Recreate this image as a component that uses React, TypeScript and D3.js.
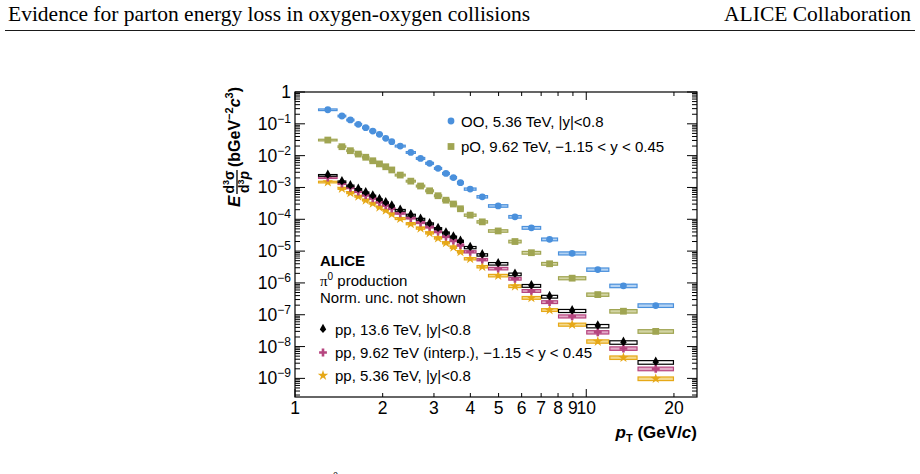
import React, { useRef, useEffect } from "react";
import * as d3 from "d3";

// pT bin edges (GeV/c), shared by all spectra
const binEdges = [
  1.2, 1.4, 1.5, 1.6, 1.7, 1.8, 1.9, 2.0, 2.1, 2.2, 2.4, 2.6, 2.8, 3.0, 3.2, 3.4,
  3.6, 3.8, 4.2, 4.6, 5.4, 6.0, 7, 8, 10, 12, 15, 20,
];

// relative systematic uncertainty per bin (box half-height)
const sysRel = [
  0.06, 0.06, 0.06, 0.06, 0.06, 0.06, 0.06, 0.06, 0.06, 0.065, 0.065, 0.07,
  0.07, 0.07, 0.075, 0.075, 0.08, 0.08, 0.085, 0.09, 0.095, 0.1, 0.1, 0.11,
  0.12, 0.125, 0.13,
];

// invariant yields
const ooValues = [
  0.277, 0.176, 0.132, 0.0964, 0.0759, 0.0594, 0.0468, 0.035, 0.0275, 0.02,
  0.0126, 8.2e-3, 5.75e-3, 3.98e-3, 2.75e-3, 2.04e-3, 1.41e-3, 8.9e-4, 5.1e-4,
  2.63e-4, 1.2e-4, 5.4e-5, 2.34e-5, 8.5e-6, 2.63e-6, 8.1e-7, 1.95e-7,
];
const poValues = [
  0.0309, 0.0191, 0.0143, 0.0112, 8.9e-3, 6.9e-3, 5.5e-3, 4.47e-3, 3.55e-3,
  2.45e-3, 1.58e-3, 1.11e-3, 7.85e-4, 5.5e-4, 3.98e-4, 3.02e-4, 2.14e-4,
  1.35e-4, 8.3e-5, 4.3e-5, 2.0e-5, 8.9e-6, 4.0e-6, 1.41e-6, 4.3e-7, 1.29e-7,
  3.0e-8,
];
const pp136Values = [
  2.4e-3, 1.51e-3, 1.12e-3, 8.7e-4, 6.8e-4, 5.4e-4, 4.17e-4, 3.31e-4, 2.6e-4,
  1.91e-4, 1.35e-4, 1.0e-4, 7.2e-5, 5.1e-5, 3.7e-5, 2.75e-5, 2.04e-5, 1.29e-5,
  7.6e-6, 4.0e-6, 1.86e-6, 8.1e-7, 3.7e-7, 1.32e-7, 4.4e-8, 1.35e-8, 3.2e-9,
];
const pp962Values = [
  2.04e-3, 1.32e-3, 9.8e-4, 7.4e-4, 5.75e-4, 4.57e-4, 3.47e-4, 2.75e-4,
  2.16e-4, 1.55e-4, 1.1e-4, 7.9e-5, 5.75e-5, 4.07e-5, 2.88e-5, 2.14e-5,
  1.55e-5, 9.5e-6, 5.4e-6, 2.82e-6, 1.35e-6, 5.6e-7, 2.5e-7, 8.9e-8, 2.82e-8,
  8.7e-9, 2.0e-9,
];
const pp536Values = [
  1.48e-3, 9.3e-4, 6.8e-4, 5.25e-4, 3.98e-4, 3.16e-4, 2.4e-4, 1.91e-4,
  1.46e-4, 1.05e-4, 7.2e-5, 5.25e-5, 3.7e-5, 2.57e-5, 1.82e-5, 1.32e-5,
  9.5e-6, 5.75e-6, 3.24e-6, 1.7e-6, 7.9e-7, 3.4e-7, 1.41e-7, 4.9e-8, 1.45e-8,
  4.5e-9, 9.8e-10,
];

const xTickValues = [1, 2, 3, 4, 5, 6, 7, 8, 9, 10, 20];
const xTickLabels = ["1", "2", "3", "4", "5", "6", "7", "8", "9", "10", "20"];
const yTickExponents = [0, -1, -2, -3, -4, -5, -6, -7, -8, -9];

const SANS = "'Liberation Sans', Arial, Helvetica, sans-serif";
const SERIF = "'Liberation Serif', 'Times New Roman', serif";

// thin diamond marker used by ROOT for the 13.6 TeV points
const thinDiamond = {
  draw(ctx: any, size: number) {
    const h = Math.sqrt(size) * 0.75;
    const w = h * 0.55;
    ctx.moveTo(0, -h);
    ctx.lineTo(w, 0);
    ctx.lineTo(0, h * 0.6);
    ctx.lineTo(-w, 0);
    ctx.closePath();
  },
};

interface Series {
  key: string;
  values: number[];
  color: string;
  boxFill: string;
  symbol: any;
  size: number;
}

const series: Series[] = [
  { key: "oo", values: ooValues, color: "#4a90dc", boxFill: "#b4d3f3", symbol: d3.symbolCircle, size: 36 },
  { key: "po", values: poValues, color: "#a0a552", boxFill: "#d2d4a3", symbol: d3.symbolSquare, size: 46 },
  { key: "pp536", values: pp536Values, color: "#e6a817", boxFill: "#f4d98c", symbol: d3.symbolStar, size: 34 },
  { key: "pp962", values: pp962Values, color: "#b6457f", boxFill: "#e2a9c6", symbol: d3.symbolCross, size: 34 },
  { key: "pp136", values: pp136Values, color: "#000000", boxFill: "#ffffff", symbol: thinDiamond, size: 60 },
];

const App: React.FC = () => {
  const svgRef = useRef<SVGSVGElement | null>(null);
  const width = 920;
  const height = 474;

  useEffect(() => {
    const svg = d3.select(svgRef.current);
    svg.selectAll("*").remove();

    const left = 295, right = 697, top = 92, bottom = 397;

    const x = d3.scaleLog().domain([1, 24]).range([left, right]);
    const y = d3.scaleLog().domain([2.6e-10, 1]).range([bottom, top]);

    // page header
    svg.append("text")
      .attr("x", 8).attr("y", 21)
      .attr("font-family", SERIF).attr("font-size", 21.5)
      .text("Evidence for parton energy loss in oxygen-oxygen collisions");
    svg.append("text")
      .attr("x", 911).attr("y", 21).attr("text-anchor", "end")
      .attr("font-family", SERIF).attr("font-size", 21.5)
      .text("ALICE Collaboration");
    svg.append("line")
      .attr("x1", 5).attr("x2", 915).attr("y1", 30.5).attr("y2", 30.5)
      .attr("stroke", "#000").attr("stroke-width", 0.9);

    // cut-off caption glyph at the page bottom
    svg.append("text")
      .attr("x", 333).attr("y", 479)
      .attr("font-family", SERIF).attr("font-size", 10)
      .text("0");

    const g = svg.append("g");

    // data: systematic boxes then markers
    series.forEach((s) => {
      const sg = g.append("g");
      s.values.forEach((v, i) => {
        const x0 = x(binEdges[i]);
        const x1 = x(binEdges[i + 1]);
        const hi = v * (1 + sysRel[i]);
        const lo = v * (1 - sysRel[i]);
        sg.append("rect")
          .attr("x", x0 + 0.5)
          .attr("y", y(hi))
          .attr("width", Math.max(0, x1 - x0 - 1))
          .attr("height", y(lo) - y(hi))
          .attr("fill", s.boxFill)
          .attr("stroke", s.color)
          .attr("stroke-width", 1.2);
      });
      s.values.forEach((v, i) => {
        const cx = Math.sqrt(binEdges[i] * binEdges[i + 1]);
        sg.append("path")
          .attr("d", d3.symbol().type(s.symbol).size(s.size)() as string)
          .attr("transform", `translate(${x(cx)},${y(v)})`)
          .attr("fill", s.color);
      });
    });

    // frame
    g.append("rect")
      .attr("x", left).attr("y", top)
      .attr("width", right - left).attr("height", bottom - top)
      .attr("fill", "none").attr("stroke", "#000").attr("stroke-width", 1.2);

    // x ticks (bottom + top)
    xTickValues.forEach((v, i) => {
      const major = v === 1 || v === 10;
      const len = major ? 8 : 4;
      const px = x(v);
      g.append("line").attr("x1", px).attr("x2", px).attr("y1", bottom).attr("y2", bottom - len)
        .attr("stroke", "#000");
      g.append("line").attr("x1", px).attr("x2", px).attr("y1", top).attr("y2", top + len)
        .attr("stroke", "#000");
      g.append("text")
        .attr("x", px).attr("y", 414)
        .attr("text-anchor", "middle")
        .attr("font-family", SANS).attr("font-size", 17.5)
        .text(xTickLabels[i]);
    });

    // y ticks, major + minor, left + right
    const [yMin] = y.domain();
    for (let e = -10; e <= 0; e++) {
      for (let m = 1; m <= 9; m++) {
        const v = m * Math.pow(10, e);
        if (v < yMin || v > 1.0000001) continue;
        const len = m === 1 ? 10 : 5;
        const py = y(v);
        g.append("line").attr("x1", left).attr("x2", left + len).attr("y1", py).attr("y2", py)
          .attr("stroke", "#000");
        g.append("line").attr("x1", right).attr("x2", right - len).attr("y1", py).attr("y2", py)
          .attr("stroke", "#000");
      }
    }
    yTickExponents.forEach((e) => {
      const py = y(Math.pow(10, e));
      const t = g.append("text")
        .attr("x", 291).attr("y", py + 6)
        .attr("text-anchor", "end")
        .attr("font-family", SANS).attr("font-size", 17.5);
      if (e === 0) {
        t.text("1");
      } else {
        t.append("tspan").text("10");
        t.append("tspan").attr("dy", -7).attr("font-size", 12).text(`\u2212${-e}`);
      }
    });

    // axis titles
    const xt = g.append("text")
      .attr("x", right).attr("y", 438)
      .attr("text-anchor", "end")
      .attr("font-family", SANS).attr("font-size", 17).attr("font-weight", "bold");
    xt.append("tspan").attr("font-style", "italic").text("p");
    xt.append("tspan").attr("dy", 4).attr("font-size", 11).text("T");
    xt.append("tspan").attr("dy", -4).text(" (GeV/");
    xt.append("tspan").attr("font-style", "italic").text("c");
    xt.append("tspan").text(")");

    const yl = g.append("g").attr("transform", "translate(240,207) rotate(-90)")
      .attr("font-family", SANS).attr("font-weight", "bold");
    yl.append("text").attr("x", 0).attr("y", 0).attr("font-size", 17)
      .attr("font-style", "italic").text("E");
    const num = yl.append("text").attr("x", 25).attr("y", -6).attr("text-anchor", "middle")
      .attr("font-size", 14);
    num.append("tspan").text("d");
    num.append("tspan").attr("dy", -5).attr("font-size", 9).text("3");
    num.append("tspan").attr("dy", 5).text("\u03c3");
    yl.append("line").attr("x1", 13).attr("x2", 37).attr("y1", -3).attr("y2", -3)
      .attr("stroke", "#000").attr("stroke-width", 1.3);
    const den = yl.append("text").attr("x", 25).attr("y", 9).attr("text-anchor", "middle")
      .attr("font-size", 14);
    den.append("tspan").text("d");
    den.append("tspan").attr("dy", -5).attr("font-size", 9).text("3");
    den.append("tspan").attr("dy", 5).attr("font-style", "italic").text("p");
    const unit = yl.append("text").attr("x", 40).attr("y", 0).attr("font-size", 16);
    unit.append("tspan").text("(bGeV");
    unit.append("tspan").attr("dy", -7).attr("font-size", 11).text("\u22122");
    unit.append("tspan").attr("dy", 7).attr("font-style", "italic").text("c");
    unit.append("tspan").attr("dy", -7).attr("font-size", 11).text("3");
    unit.append("tspan").attr("dy", 7).text(")");

    // legend, top right
    const legTop = [
      { s: series[0], text: "OO, 5.36 TeV, |y|<0.8", y: 121 },
      { s: series[1], text: "pO, 9.62 TeV, \u22121.15 < y < 0.45", y: 146.5 },
    ];
    legTop.forEach((d) => {
      g.append("path")
        .attr("d", d3.symbol().type(d.s.symbol).size(d.s.size)() as string)
        .attr("transform", `translate(451,${d.y})`)
        .attr("fill", d.s.color);
      g.append("text").attr("x", 461).attr("y", d.y + 5.5)
        .attr("font-family", SANS).attr("font-size", 15).text(d.text);
    });

    // ALICE block and pp legend
    g.append("text").attr("x", 320).attr("y", 266)
      .attr("font-family", SANS).attr("font-size", 15).attr("font-weight", "bold").text("ALICE");
    const pi = g.append("text").attr("x", 320).attr("y", 286)
      .attr("font-family", SANS).attr("font-size", 15);
    pi.append("tspan").attr("font-family", SERIF).text("\u03c0");
    pi.append("tspan").attr("dy", -6).attr("font-size", 10).text("0");
    pi.append("tspan").attr("dy", 6).text(" production");
    g.append("text").attr("x", 320).attr("y", 303)
      .attr("font-family", SANS).attr("font-size", 15).text("Norm. unc. not shown");

    const legPP = [
      { s: series[4], text: "pp, 13.6 TeV, |y|<0.8", y: 329.5 },
      { s: series[3], text: "pp, 9.62 TeV (interp.), \u22121.15 < y < 0.45", y: 352.5 },
      { s: series[2], text: "pp, 5.36 TeV, |y|<0.8", y: 375.5 },
    ];
    legPP.forEach((d) => {
      g.append("path")
        .attr("d", d3.symbol().type(d.s.symbol).size(d.s.size)() as string)
        .attr("transform", `translate(323,${d.y})`)
        .attr("fill", d.s.color);
      g.append("text").attr("x", 335).attr("y", d.y + 5.5)
        .attr("font-family", SANS).attr("font-size", 15).text(d.text);
    });
  }, []);

  return (
    <svg
      ref={svgRef}
      width={width}
      height={height}
      style={{ position: "absolute", left: 0, top: 0, background: "#fff" }}
    />
  );
};

export default App;
